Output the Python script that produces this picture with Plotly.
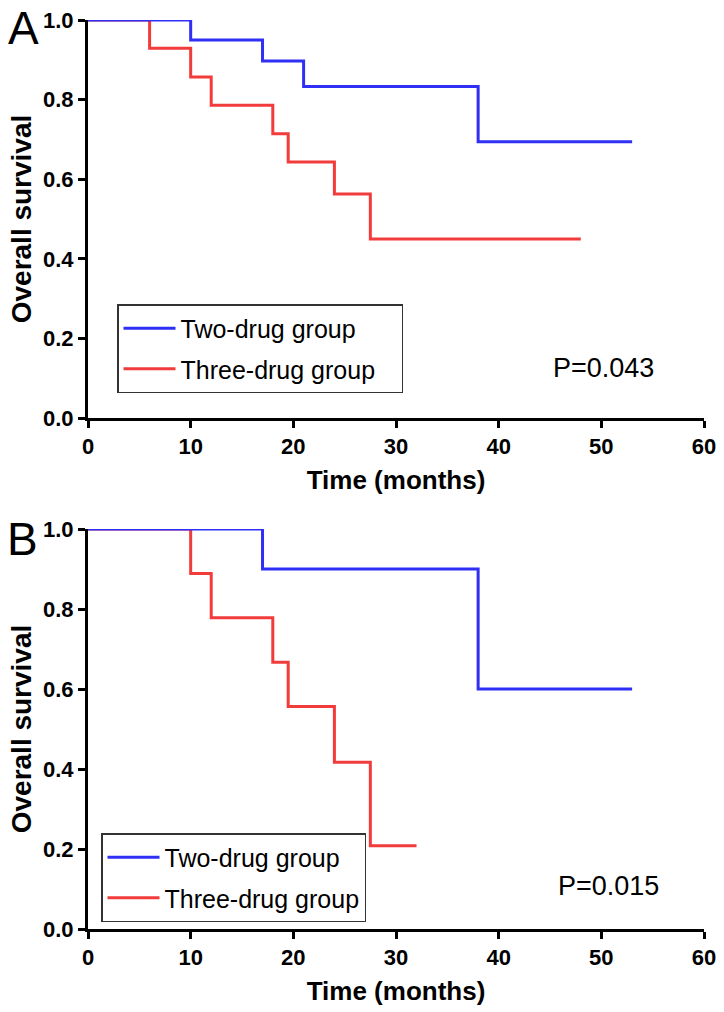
import plotly.graph_objects as go

# ---- data ----
months_ticks = [0, 10, 20, 30, 40, 50, 60]
surv_ticks = [0.0, 0.2, 0.4, 0.6, 0.8, 1.0]
surv_tick_labels = ["0.0", "0.2", "0.4", "0.6", "0.8", "1.0"]

a_two_t = [0, 10, 17, 21, 38, 53]
a_two_s = [1.0, 0.95, 0.897, 0.833, 0.694, 0.694]
a_three_t = [0, 6, 10, 12, 18, 19.5, 24, 27.5, 48]
a_three_s = [1.0, 0.929, 0.857, 0.786, 0.714, 0.643, 0.563, 0.45, 0.45]

b_two_t = [0, 17, 38, 53]
b_two_s = [1.0, 0.9, 0.6, 0.6]
b_three_t = [0, 10, 12, 18, 19.5, 24, 27.5, 32]
b_three_s = [1.0, 0.889, 0.778, 0.667, 0.556, 0.417, 0.208, 0.208]

p_a = "P=0.043"
p_b = "P=0.015"
name_two = "Two-drug group"
name_three = "Three-drug group"

BLUE = "#2f2ff5"
RED = "#f23b3b"
FONT = "Liberation Sans, Arial, sans-serif"
W, H = 724, 1012

fig = go.Figure()

def add_panel(t2, s2, t3, s3, xa, ya, leg, pad):
    fig.add_trace(go.Scatter(x=t3, y=s3, mode="lines", line=dict(color=RED, width=3, shape="hv"),
                             name=name_three + pad, xaxis=xa, yaxis=ya, legend=leg, legendrank=2,
                             legendgroup=leg + "three", cliponaxis=False))
    fig.add_trace(go.Scatter(x=t2, y=s2, mode="lines", line=dict(color=BLUE, width=3, shape="hv"),
                             name=name_two, xaxis=xa, yaxis=ya, legend=leg, legendrank=1,
                             legendgroup=leg + "two", cliponaxis=False))

add_panel(a_two_t, a_two_s, a_three_t, a_three_s, "x", "y", "legend", "\u00a0\u00a0\u00a0")
add_panel(b_two_t, b_two_s, b_three_t, b_three_s, "x2", "y2", "legend2", "")

def px_y(py):
    return 1 - py / H

xdom = [88 / W, 704 / W]
axis_common = dict(showline=True, linewidth=3, linecolor="black", ticks="outside",
                   ticklen=7, tickwidth=2.5, tickcolor="black", showgrid=False, zeroline=False,
                   automargin=False,
                   tickfont=dict(family=FONT, size=22, color="black", weight="bold"))

xaxis_common = dict(axis_common, range=[0, 60], tickvals=months_ticks,
                    title=dict(text="<b>Time (months)</b>", font=dict(family=FONT, size=26, color="black"),
                               standoff=13))
yaxis_common = dict(axis_common, range=[0, 1.0], tickvals=surv_ticks, ticktext=surv_tick_labels,
                    title=dict(text="<b>Overall survival</b>", font=dict(family=FONT, size=28, color="black"),
                               standoff=4))

legend_common = dict(xanchor="left", yanchor="top", bordercolor="#333333", borderwidth=1.5,
                     bgcolor="rgba(255,255,255,0)", font=dict(family=FONT, size=25, color="black"),
                     itemwidth=52, tracegroupgap=5, traceorder="grouped")

fig.update_layout(
    width=W, height=H,
    margin=dict(l=0, r=0, t=0, b=0, autoexpand=False),
    paper_bgcolor="white", plot_bgcolor="white",
    font=dict(family=FONT, color="black"),
    xaxis=dict(xaxis_common, domain=xdom, anchor="y"),
    yaxis=dict(yaxis_common, domain=[px_y(418), px_y(20)], anchor="x"),
    xaxis2=dict(xaxis_common, domain=xdom, anchor="y2"),
    yaxis2=dict(yaxis_common, domain=[px_y(929), px_y(529)], anchor="x2"),
    legend=dict(legend_common, x=117 / W, y=px_y(304)),
    legend2=dict(legend_common, x=101 / W, y=px_y(833)),
    showlegend=True,
)

fig.add_annotation(text=p_a, x=603 / W, y=px_y(368), xref="paper", yref="paper",
                   xanchor="center", yanchor="middle",
                   showarrow=False, font=dict(family=FONT, size=27, color="black"))
fig.add_annotation(text=p_b, x=608 / W, y=px_y(886), xref="paper", yref="paper",
                   xanchor="center", yanchor="middle",
                   showarrow=False, font=dict(family=FONT, size=27, color="black"))
fig.add_annotation(text="A", x=6 / W, y=px_y(28), xref="paper", yref="paper",
                   xanchor="left", yanchor="middle",
                   showarrow=False, font=dict(family=FONT, size=46, color="black"))
fig.add_annotation(text="B", x=5 / W, y=px_y(539), xref="paper", yref="paper",
                   xanchor="left", yanchor="middle",
                   showarrow=False, font=dict(family=FONT, size=46, color="black"))

fig.write_html("out.html", config={"displayModeBar": False},
               post_script="document.body.style.margin='0';")
